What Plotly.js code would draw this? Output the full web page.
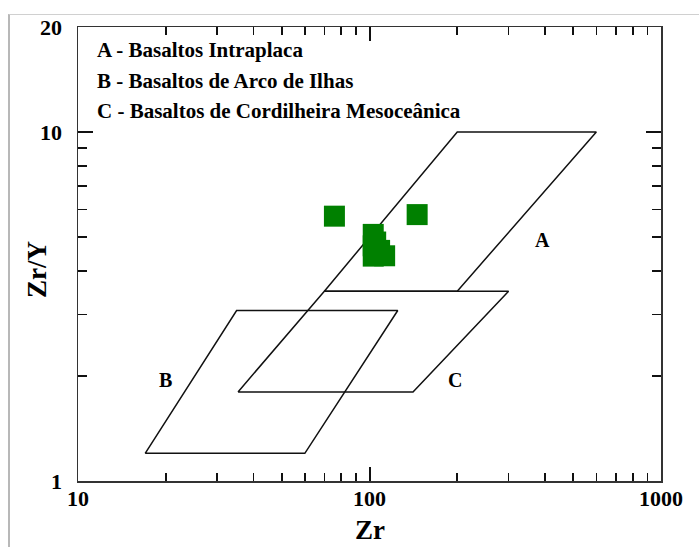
<!DOCTYPE html>
<html>
<head>
<meta charset="utf-8">
<script src="https://cdn.plot.ly/plotly-3.0.1.min.js"></script>
<style>
  html, body { margin: 0; padding: 0; background: #fff; }
  #wrap { position: relative; width: 699px; height: 547px; overflow: hidden; }
  #chart { position: absolute; left: 0; top: 0; width: 699px; height: 547px; }
  #frame { position: absolute; left: 8px; top: 14px; right: -10px; bottom: -10px;
           border-left: 2px solid #b8b8b8; border-top: 1px solid #d0d0d0; pointer-events: none; }
</style>
</head>
<body>
<div id="wrap">
  <div id="chart"></div>
  <div id="frame"></div>
</div>
<script>
// Discrimination fields (Pearce & Norry Zr vs Zr/Y)
const fieldA_zr = [70, 200, 600, 200, 70];
const fieldA_zry = [3.5, 10, 10, 3.5, 3.5];
const fieldB_zr = [17, 35, 125, 60, 17];
const fieldB_zry = [1.2, 3.08, 3.08, 1.2, 1.2];
const fieldC_zr = [35.4, 70, 300, 141, 35.4];
const fieldC_zry = [1.8, 3.5, 3.5, 1.8, 1.8];

// Samples
const sampleZr = [75.8, 145.7, 103, 103, 105, 108.3, 112.7, 103];
const sampleZrY = [5.74, 5.80, 5.09, 4.72, 4.84, 4.58, 4.42, 4.41];

// Field labels and legend lines
const fieldLabels = ['A', 'B', 'C'];
const fieldLabelZr = [393, 20, 196];
const fieldLabelZrY = [4.91, 1.95, 1.95];
const legendLines = [
  'A - Basaltos Intraplaca',
  'B - Basaltos de Arco de Ilhas',
  'C - Basaltos de Cordilheira Mesoceânica'
];

const xMajor = [10, 100, 1000];
const xMinor = [20, 30, 40, 50, 60, 70, 80, 90, 200, 300, 400, 500, 600, 700, 800, 900];
const yMajor = [1, 10, 20];
const yMinor = [2, 3, 4, 5, 6, 7, 8, 9];

const serif = 'Liberation Serif, Times New Roman, serif';
const lineStyle = { color: '#111', width: 1.5 };

const traces = [
  { x: fieldA_zr, y: fieldA_zry, mode: 'lines', line: lineStyle, hoverinfo: 'skip' },
  { x: fieldB_zr, y: fieldB_zry, mode: 'lines', line: lineStyle, hoverinfo: 'skip' },
  { x: fieldC_zr, y: fieldC_zry, mode: 'lines', line: lineStyle, hoverinfo: 'skip' },
  { x: sampleZr, y: sampleZrY, mode: 'markers',
    marker: { symbol: 'square', size: 21, color: '#008000', line: { width: 0 } } }
];

const annotations = fieldLabels.map((t, i) => ({
  x: Math.log10(fieldLabelZr[i]), y: Math.log10(fieldLabelZrY[i]),
  xref: 'x', yref: 'y', text: t, showarrow: false,
  font: { family: serif, size: 20, color: '#000', weight: 'bold' }
}));

legendLines.forEach((t, i) => {
  annotations.push({
    xref: 'paper', yref: 'paper', x: 0.03, y: 1 - (0.05 + i * 0.068),
    xanchor: 'left', yanchor: 'middle', text: t, showarrow: false,
    font: { family: serif, size: 21, color: '#000', weight: 'bold' }
  });
});

// Axis titles, placed as annotations so they sit close to the frame
const titleFont = { family: serif, size: 27, color: '#000', weight: 'bold' };
annotations.push({
  xref: 'paper', yref: 'paper', x: 0.5, y: -0.108, xanchor: 'center', yanchor: 'middle',
  text: 'Zr', showarrow: false, font: titleFont
});
annotations.push({
  xref: 'paper', yref: 'paper', x: -0.07, y: 0.465, xanchor: 'center', yanchor: 'middle',
  text: 'Zr/Y', textangle: -90, showarrow: false, font: titleFont
});

const tickFont = { family: serif, size: 22, color: '#000', weight: 'bold' };

const layout = {
  width: 699, height: 547,
  margin: { l: 78, r: 38, t: 27, b: 66 },
  paper_bgcolor: 'rgba(0,0,0,0)', plot_bgcolor: '#fff',
  showlegend: false,
  xaxis: {
    type: 'log', range: [1, 3],
    tickmode: 'array', tickvals: xMajor, ticktext: xMajor.map(String),
    ticks: 'inside', ticklen: 14, tickwidth: 2, tickcolor: '#111',
    minor: { tickmode: 'array', tickvals: xMinor, ticks: 'inside', ticklen: 8, tickwidth: 1.6, tickcolor: '#111', showgrid: false },
    showline: true, linecolor: '#333', linewidth: 1.5, mirror: 'allticks',
    showgrid: false, zeroline: false,
    tickfont: tickFont, ticklabelstandoff: -3
  },
  yaxis: {
    type: 'log', range: [0, Math.log10(20)],
    tickmode: 'array', tickvals: yMajor, ticktext: yMajor.map(String),
    ticks: 'inside', ticklen: 15, tickwidth: 2.2, tickcolor: '#111',
    minor: { tickmode: 'array', tickvals: yMinor, ticks: 'inside', ticklen: 9, tickwidth: 1.8, tickcolor: '#111', showgrid: false },
    showline: true, linecolor: '#333', linewidth: 1.5, mirror: 'allticks',
    showgrid: false, zeroline: false,
    tickfont: tickFont, ticklabelstandoff: 10
  },
  annotations: annotations
};

Plotly.newPlot('chart', traces, layout, { displayModeBar: false, staticPlot: true });
</script>
</body>
</html>
